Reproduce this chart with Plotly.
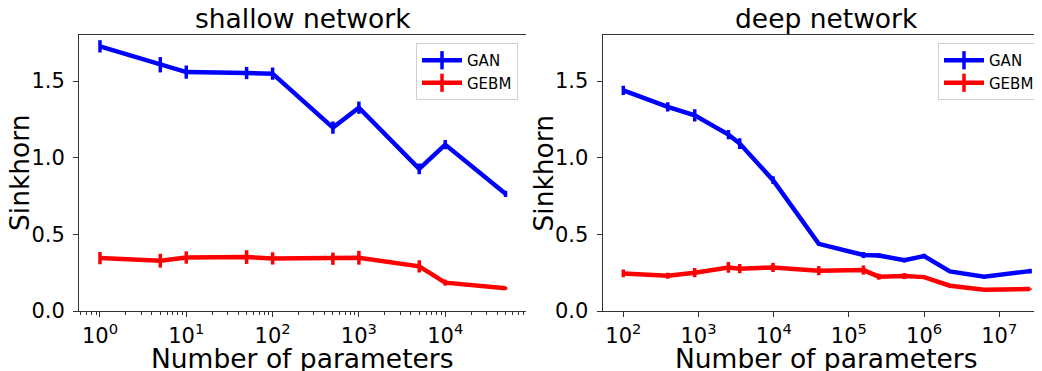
import plotly.graph_objects as go

# The page body has an 8px margin; the figure is sized/positioned to compensate
OFF = 8
W, H = 1042 - OFF, 371 - OFF

# ---------------- data ----------------
shallow_params = [1, 5, 10, 50, 100, 500, 1000, 5000, 10000, 50000]
shallow_gan = [1.726, 1.606, 1.558, 1.552, 1.548, 1.196, 1.326, 0.927, 1.085, 0.764]
shallow_gan_err = [0.04, 0.05, 0.043, 0.04, 0.04, 0.04, 0.04, 0.035, 0.03, 0.02]
shallow_gebm = [0.345, 0.328, 0.349, 0.352, 0.343, 0.341, 0.347, 0.291, 0.185, 0.148]
shallow_gebm_err = [0.04, 0.045, 0.04, 0.045, 0.04, 0.04, 0.045, 0.04, 0.02, 0.01]

deep_params = [100, 390, 890, 2500, 3530, 9800, 39700, 156000, 250000, 547000,
               1000000, 2200000, 6300000, 25700000]
deep_gan = [1.439, 1.331, 1.276, 1.150, 1.092, 0.853, 0.438, 0.365, 0.362, 0.332,
            0.358, 0.258, 0.224, 0.260]
deep_gan_err = [0.03, 0.03, 0.04, 0.03, 0.035, 0.025, 0.01, 0.02, 0.015, 0.015,
                0.015, 0.01, 0.005, 0.015]
deep_gebm = [0.245, 0.230, 0.250, 0.284, 0.276, 0.284, 0.263, 0.267, 0.224, 0.228,
             0.221, 0.165, 0.139, 0.143]
deep_gebm_err = [0.025, 0.02, 0.03, 0.035, 0.03, 0.03, 0.03, 0.03, 0.02, 0.02,
                 0.01, 0.01, 0.005, 0.005]

series_names = ["GAN", "GEBM"]
series_colors = ["#0000ff", "#ff0000"]

titles = ["shallow network", "deep network"]
x_title = "Number of parameters"
y_title = "Sinkhorn"

shallow_tickvals = [1, 10, 100, 1000, 10000]
shallow_ticktext = ["10<sup>0</sup>", "10<sup>1</sup>", "10<sup>2</sup>",
                    "10<sup>3</sup>", "10<sup>4</sup>"]
deep_tickvals = [1e2, 1e3, 1e4, 1e5, 1e6, 1e7]
deep_ticktext = ["10<sup>2</sup>", "10<sup>3</sup>", "10<sup>4</sup>",
                 "10<sup>5</sup>", "10<sup>6</sup>", "10<sup>7</sup>"]
y_tickvals = [0.0, 0.5, 1.0, 1.5]
y_ticktext = ["0.0", "0.5", "1.0", "1.5"]

# ---------------- layout geometry (screen pixels) ----------------
L_x0, L_x1 = 79, 526
R_x0 = 602.5
Y_top, Y_bot = 35, 311

FONT = "DejaVu Sans"
TXT = "#000000"
SPINE = "#333333"
BIG = 26.5

fig = go.Figure()

panels = [
    ("x", "y", shallow_params, [(shallow_gan, shallow_gan_err), (shallow_gebm, shallow_gebm_err)], "legend"),
    ("x2", "y2", deep_params, [(deep_gan, deep_gan_err), (deep_gebm, deep_gebm_err)], "legend2"),
]

for xa, ya, xs, ser, leg in panels:
    for (vals, errs), name, col in zip(ser, series_names, series_colors):
        fig.add_trace(go.Scatter(
            x=xs, y=vals, mode="lines", name=name, xaxis=xa, yaxis=ya,
            line=dict(color=col, width=4.5),
            error_y=dict(type="data", array=errs, visible=True, color=col,
                         thickness=3.5, width=0),
            showlegend=False, hoverinfo="x+y",
        ))
    # legend entries (line + vertical bar glyph)
    for name, col in zip(series_names, series_colors):
        fig.add_trace(go.Scatter(
            x=[None], y=[None], mode="lines+markers", name=name,
            xaxis=xa, yaxis=ya, legend=leg,
            line=dict(color=col, width=4.5),
            marker=dict(symbol="line-ns", size=13, color=col,
                        line=dict(color=col, width=3.5)),
            showlegend=True,
        ))

def xd(px):
    return (px - OFF) / W

def yd(py):
    return 1 - (py - OFF) / H

axis_common = dict(
    showline=True, linecolor=SPINE, linewidth=1, showgrid=False, zeroline=False,
    ticks="outside", ticklen=5, tickwidth=1, tickcolor=SPINE, automargin=False,
    tickfont=dict(family=FONT, size=21, color=TXT),
)

legend_common = dict(
    xanchor="right", yanchor="top",
    bgcolor="rgba(255,255,255,0.8)", bordercolor="#d0d0d0", borderwidth=1,
    font=dict(family=FONT, size=15, color=TXT), itemwidth=40,
)

fig.update_layout(
    width=W, height=H,
    margin=dict(l=0, r=0, t=0, b=0, pad=0),
    paper_bgcolor="white", plot_bgcolor="white",
    font=dict(family=FONT, color=TXT),
    xaxis=dict(axis_common, type="log", domain=[xd(L_x0), xd(L_x1)],
               range=[-0.243, 4.936], mirror=True, anchor="y", ticklabelstandoff=1,
               tickmode="array", tickvals=shallow_tickvals, ticktext=shallow_ticktext,
               minor=dict(ticks="outside", ticklen=2.5, tickwidth=1, tickcolor=SPINE, dtick="D1")),
    yaxis=dict(axis_common, domain=[yd(Y_bot), yd(Y_top)], range=[0, 1.8],
               anchor="x", ticklabelstandoff=4,
               tickmode="array", tickvals=y_tickvals, ticktext=y_ticktext),
    xaxis2=dict(axis_common, type="log", domain=[xd(R_x0), 1.0],
                range=[1.723, 7.568], mirror=True, anchor="y2", ticklabelstandoff=1,
                tickmode="array", tickvals=deep_tickvals, ticktext=deep_ticktext),
    yaxis2=dict(axis_common, domain=[yd(Y_bot), yd(Y_top)], range=[0, 1.8],
                anchor="x2", ticklabelstandoff=4,
                tickmode="array", tickvals=y_tickvals, ticktext=y_ticktext),
    legend=dict(legend_common, x=xd(518), y=yd(43)),
    legend2=dict(legend_common, x=xd(1040), y=yd(43)),
)

annotations = []
centers = [(L_x0 + L_x1) / 2, 826]
for cx, t in zip(centers, titles):
    annotations.append(dict(text=t, x=xd(cx), y=yd(19), xref="paper", yref="paper",
                            xanchor="center", yanchor="middle", showarrow=False,
                            font=dict(family=FONT, size=BIG, color=TXT)))
    annotations.append(dict(text=x_title, x=xd(cx), y=yd(358), xref="paper", yref="paper",
                            xanchor="center", yanchor="middle", showarrow=False,
                            font=dict(family=FONT, size=BIG, color=TXT)))
for ax0 in [L_x0, R_x0]:
    annotations.append(dict(text=y_title, x=xd(ax0 - 60), y=yd((Y_top + Y_bot) / 2),
                            xref="paper", yref="paper", xanchor="center", yanchor="middle",
                            textangle=-90, showarrow=False,
                            font=dict(family=FONT, size=BIG, color=TXT)))
fig.update_layout(annotations=annotations)

fig.write_html("out.html")
